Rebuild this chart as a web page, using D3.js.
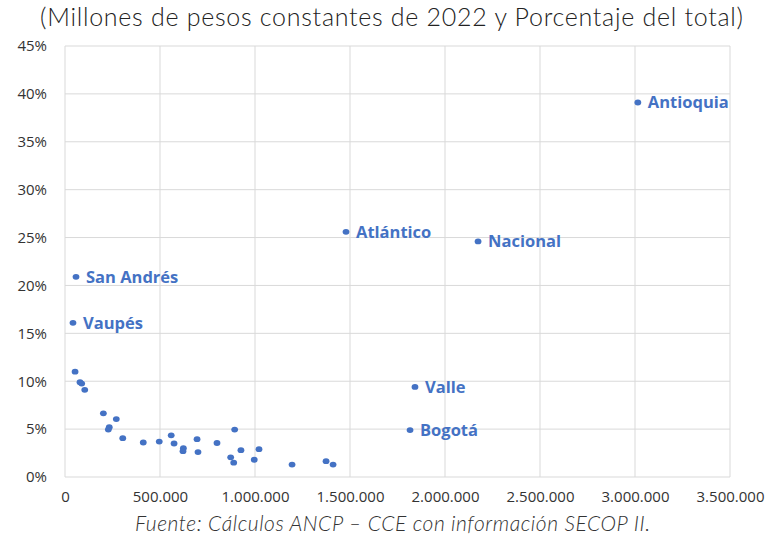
<!DOCTYPE html>
<html>
<head>
<meta charset="utf-8">
<script src="https://cdn.jsdelivr.net/npm/d3@7"></script>
<style>
  body { margin: 0; background: #fff; }
  svg { display: block; }
</style>
</head>
<body>
<div id="chart"></div>
<script>
// labelled territories
const names = ["Antioquia", "Atlántico", "Nacional", "San Andrés", "Vaupés", "Valle", "Bogotá"];
const namedValue = [3015000, 1479000, 2174000, 58000, 42000, 1842000, 1816000];
const namedShare = [39.1, 25.6, 24.6, 20.9, 16.1, 9.4, 4.9];

// the other departments (no label)
const otherValue = [53000, 79000, 88000, 104000, 202000, 270000, 233000, 228000, 304000, 412000,
  496000, 559000, 574000, 623000, 621000, 695000, 700000, 800000, 893000, 872000,
  888000, 926000, 996000, 1021000, 1195000, 1374000, 1411000];
const otherShare = [11.0, 9.9, 9.75, 9.1, 6.65, 6.05, 5.2, 4.95, 4.05, 3.6,
  3.7, 4.35, 3.5, 3.0, 2.7, 3.95, 2.6, 3.55, 4.95, 2.05,
  1.5, 2.8, 1.8, 2.9, 1.3, 1.65, 1.3];

const xTicks = [0, 500000, 1000000, 1500000, 2000000, 2500000, 3000000, 3500000];
const yTicks = [0, 5, 10, 15, 20, 25, 30, 35, 40, 45];

const width = 767, height = 543;
const margin = { top: 46, right: 37, bottom: 66, left: 65 };

const blue = "#4472C4";

const svg = d3.select("#chart").append("svg")
  .attr("width", width)
  .attr("height", height);

const x = d3.scaleLinear().domain([0, 3500000]).range([margin.left, width - margin.right]);
const y = d3.scaleLinear().domain([0, 45]).range([height - margin.bottom, margin.top]);

const fmt = d3.formatLocale({ decimal: ",", thousands: ".", grouping: [3], currency: ["$", ""] }).format(",.0f");

// gridlines
svg.append("g").selectAll("line").data(yTicks).enter().append("line")
  .attr("x1", margin.left).attr("x2", width - margin.right)
  .attr("y1", d => y(d)).attr("y2", d => y(d))
  .attr("stroke", "#d9d9d9").attr("stroke-width", 1);

svg.append("g").selectAll("line").data(xTicks).enter().append("line")
  .attr("x1", d => x(d)).attr("x2", d => x(d))
  .attr("y1", margin.top).attr("y2", height - margin.bottom)
  .attr("stroke", "#d9d9d9").attr("stroke-width", 1);

// axes (labels only)
const xAxis = svg.append("g")
  .attr("transform", `translate(0, ${height - margin.bottom})`)
  .call(d3.axisBottom(x).tickValues(xTicks).tickFormat(fmt).tickSize(0).tickPadding(14));
xAxis.select(".domain").remove();
xAxis.selectAll("text")
  .attr("font-family", "'Open Sans', sans-serif")
  .attr("font-size", 15)
  .attr("fill", "#333");

const yAxis = svg.append("g")
  .attr("transform", `translate(${margin.left}, 0)`)
  .call(d3.axisLeft(y).tickValues(yTicks).tickFormat(d => d + "%").tickSize(0).tickPadding(18));
yAxis.select(".domain").remove();
yAxis.selectAll("text")
  .attr("font-family", "'Open Sans', sans-serif")
  .attr("font-size", 15)
  .attr("fill", "#333");

// points
const others = otherValue.map((v, i) => ({ v, s: otherShare[i] }));
const named = names.map((n, i) => ({ n, v: namedValue[i], s: namedShare[i] }));

svg.append("g").selectAll("ellipse").data(others.concat(named)).enter().append("ellipse")
  .attr("cx", d => x(d.v))
  .attr("cy", d => y(d.s))
  .attr("rx", 3.4).attr("ry", 2.9)
  .attr("fill", blue);

svg.append("g").selectAll("text").data(named).enter().append("text")
  .attr("x", d => x(d.v) + 10)
  .attr("y", d => y(d.s))
  .attr("dy", "0.35em")
  .attr("font-family", "'Open Sans', sans-serif")
  .attr("font-size", 16.5)
  .attr("font-weight", "bold")
  .attr("fill", blue)
  .text(d => d.n);

// title and source
svg.append("text")
  .attr("x", 40).attr("y", 26)
  .attr("textLength", 703)
  .attr("lengthAdjust", "spacing")
  .attr("font-family", "Lato, sans-serif")
  .attr("font-weight", 300)
  .attr("font-size", 25)
  .attr("fill", "#222")
  .text("(Millones de pesos constantes de 2022 y Porcentaje del total)");

svg.append("text")
  .attr("x", 135).attr("y", 531)
  .attr("textLength", 515)
  .attr("lengthAdjust", "spacing")
  .attr("font-family", "Lato, sans-serif")
  .attr("font-style", "italic")
  .attr("font-weight", 300)
  .attr("font-size", 21)
  .attr("fill", "#333")
  .text("Fuente: Cálculos ANCP – CCE con información SECOP II.");
</script>
</body>
</html>
